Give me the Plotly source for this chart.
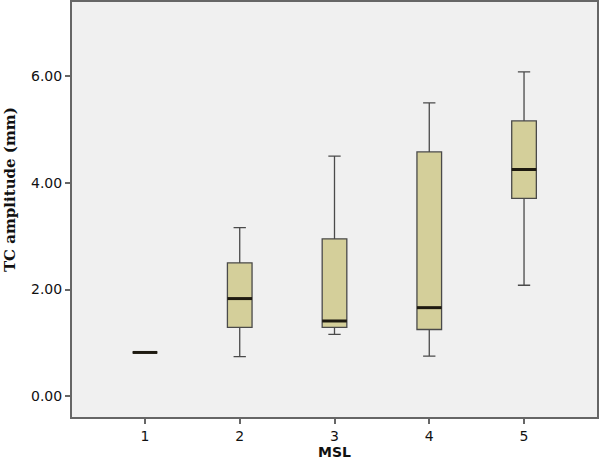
import plotly.graph_objects as go

categories = [1, 2, 3, 4, 5]
tick_labels = ["1", "2", "3", "4", "5"]
lower_whisker = [0.82, 0.74, 1.16, 0.75, 2.08]
q1 = [0.82, 1.29, 1.29, 1.25, 3.71]
median = [0.82, 1.83, 1.41, 1.66, 4.25]
q3 = [0.82, 2.50, 2.95, 4.58, 5.16]
upper_whisker = [0.82, 3.16, 4.50, 5.50, 6.08]
y_ticks = [0, 2, 4, 6]
y_tick_labels = ["0.00", "2.00", "4.00", "6.00"]

BOX_W = 0.26

fig = go.Figure()
fig.add_trace(go.Box(
    x=categories,
    q1=q1, median=median, q3=q3,
    lowerfence=lower_whisker, upperfence=upper_whisker,
    width=BOX_W,
    whiskerwidth=0.5,
    fillcolor="#d4cf9a",
    line=dict(color="#4a4a4a", width=1.3),
    boxpoints=False,
    hoverinfo="skip",
    showlegend=False,
))

for c, m in zip(categories, median):
    fig.add_shape(type="line", xref="x", yref="y",
                  x0=c - BOX_W / 2, x1=c + BOX_W / 2, y0=m, y1=m,
                  line=dict(color="#1e1a10", width=3))

fig.update_layout(
    width=600, height=459,
    margin=dict(l=72, r=3, t=2, b=42, autoexpand=False),
    paper_bgcolor="white",
    plot_bgcolor="#f0f0f0",
    font=dict(family="DejaVu Sans", size=14, color="#111111"),
    annotations=[
        dict(text="<b>TC amplitude (mm)</b>", textangle=-90,
             xref="paper", yref="paper", x=-0.118, y=0.547,
             xanchor="center", yanchor="middle", showarrow=False,
             font=dict(family="DejaVu Serif", size=15, color="#111111")),
        dict(text="<b>MSL</b>",
             xref="paper", yref="paper", x=0.5, y=-0.084,
             xanchor="center", yanchor="middle", showarrow=False,
             font=dict(family="DejaVu Sans", size=14, color="#111111")),
    ],
)

fig.update_xaxes(
    range=[0.23, 5.77],
    tickvals=categories, ticktext=tick_labels,
    ticks="outside", ticklen=5, tickcolor="#666666", tickwidth=1.5,
    showline=True, linecolor="#666666", linewidth=2, mirror=True,
    showgrid=False, zeroline=False,
    tickfont=dict(family="DejaVu Sans", size=14),
)
fig.update_yaxes(
    range=[-0.39, 7.39],
    tickvals=y_ticks, ticktext=y_tick_labels,
    ticks="outside", ticklen=5, tickcolor="#666666", tickwidth=1.5,
    showline=True, linecolor="#666666", linewidth=2, mirror=True,
    showgrid=False, zeroline=False,
    tickfont=dict(family="DejaVu Sans", size=14),
)

fig.write_html("out.html", config={"displayModeBar": False},
               post_script="document.body.style.margin='0';")
